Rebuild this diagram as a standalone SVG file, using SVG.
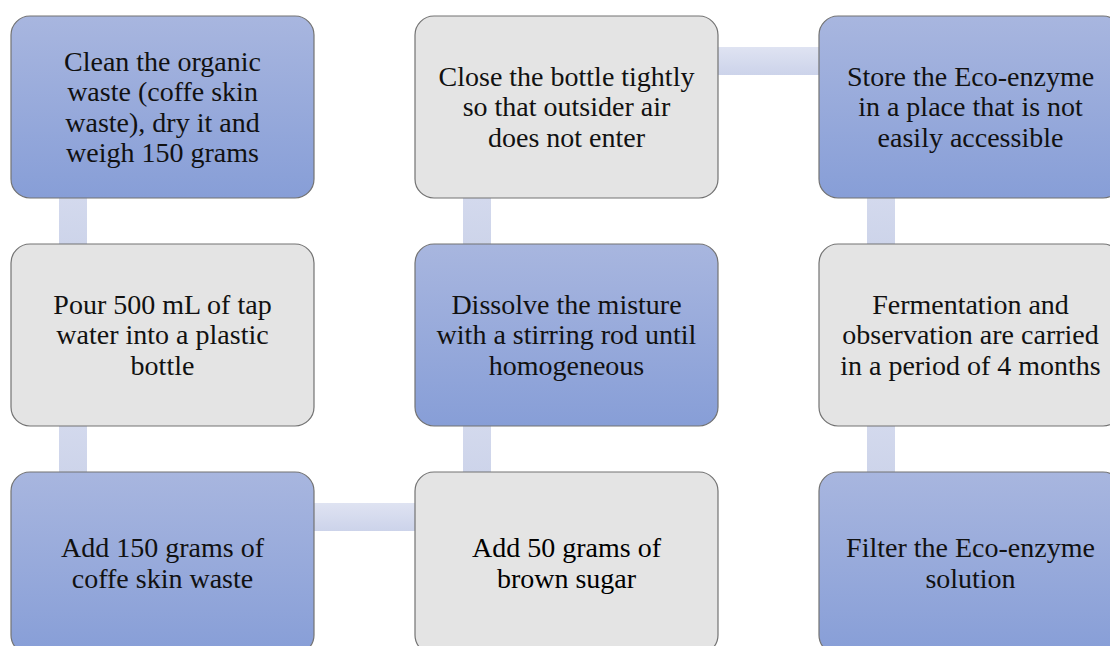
<svg xmlns="http://www.w3.org/2000/svg" width="1110" height="646" viewBox="0 0 1110 646">
<defs>
<linearGradient id="gb" x1="0" y1="0" x2="0" y2="1">
<stop offset="0" stop-color="#a8b6df"/>
<stop offset="1" stop-color="#879ed7"/>
</linearGradient>
<linearGradient id="gv" x1="0" y1="0" x2="0" y2="1">
<stop offset="0" stop-color="#d3d9ed"/>
<stop offset="1" stop-color="#cdd4ea"/>
</linearGradient>
<linearGradient id="gh" x1="0" y1="0" x2="0" y2="1">
<stop offset="0" stop-color="#dfe3f2"/>
<stop offset="1" stop-color="#ccd3ea"/>
</linearGradient>
</defs>
<rect width="1110" height="646" fill="#fff"/>
<g id="connectors">
<rect fill="url(#gv)" x="59" y="197" width="28" height="48"/>
<rect fill="url(#gv)" x="59" y="425" width="28" height="48"/>
<rect fill="url(#gh)" x="313" y="503" width="103" height="28"/>
<rect fill="url(#gv)" x="463" y="425" width="28" height="48"/>
<rect fill="url(#gv)" x="463" y="197" width="28" height="48"/>
<rect fill="url(#gh)" x="717" y="47" width="103" height="28"/>
<rect fill="url(#gv)" x="867" y="197" width="28" height="48"/>
<rect fill="url(#gv)" x="867" y="425" width="28" height="48"/>
</g>
<g id="n1">
<rect fill="url(#gb)" stroke="#737373" stroke-width="1.2" x="11" y="16" width="303" height="182" rx="19"/>
<text font-family="serif" font-size="28" fill="#111" text-anchor="middle" x="162.5" y="71">Clean the organic</text>
<text font-family="serif" font-size="28" fill="#111" text-anchor="middle" x="162.5" y="101.3">waste (coffe skin</text>
<text font-family="serif" font-size="28" fill="#111" text-anchor="middle" x="162.5" y="131.6">waste), dry it and</text>
<text font-family="serif" font-size="28" fill="#111" text-anchor="middle" x="162.5" y="161.9">weigh 150 grams</text>
</g>
<g id="n2">
<rect fill="#e4e4e4" stroke="#737373" stroke-width="1.2" x="11" y="244" width="303" height="182" rx="19"/>
<text font-family="Times New Roman" font-size="28" fill="#111" text-anchor="middle" x="162.5" y="314">Pour 500 mL of tap</text>
<text font-family="Times New Roman" font-size="28" fill="#111" text-anchor="middle" x="162.5" y="344.3">water into a plastic</text>
<text font-family="Times New Roman" font-size="28" fill="#111" text-anchor="middle" x="162.5" y="374.6">bottle</text>
</g>
<g id="n3">
<rect fill="url(#gb)" stroke="#737373" stroke-width="1.2" x="11" y="472" width="303" height="182" rx="19"/>
<text style="font-family:'Liberation Serif',serif;font-size:28px" fill="#111" text-anchor="middle" x="162.5" y="557.2">Add 150 grams of</text>
<text style="font-family:'Liberation Serif',serif;font-size:28px" fill="#111" text-anchor="middle" x="162.5" y="587.5">coffe skin waste</text>
</g>
<g id="n4">
<rect fill="#e4e4e4" stroke="#737373" stroke-width="1.2" x="415" y="472" width="303" height="182" rx="19"/>
<text font-family="Liberation Serif" font-size="28" x="566.5" y="557.2" text-anchor="middle">Add 50 grams of</text>
<text font-family="Liberation Serif" font-size="28" x="566.5" y="587.5" text-anchor="middle">brown sugar</text>
</g>
<g id="n5">
<rect fill="url(#gb)" stroke="#737373" stroke-width="1.2" x="415" y="244" width="303" height="182" rx="19"/>
<text font-family="Liberation Serif" font-size="28" fill="#111" text-anchor="middle" x="566.5" y="314">Dissolve the misture</text>
<text font-family="Liberation Serif" font-size="28" fill="#111" text-anchor="middle" x="566.5" y="344.3">with a stirring rod until</text>
<text font-family="Liberation Serif" font-size="28" fill="#111" text-anchor="middle" x="566.5" y="374.6">homogeneous</text>
</g>
<g id="n6">
<rect fill="#e4e4e4" stroke="#737373" stroke-width="1.2" x="415" y="16" width="303" height="182" rx="19"/>
<text font-family="Liberation Serif" font-size="28" fill="#111" text-anchor="middle" x="566.5" y="86">Close the bottle tightly</text>
<text font-family="Liberation Serif" font-size="28" fill="#111" text-anchor="middle" x="566.5" y="116.3">so that outsider air</text>
<text font-family="Liberation Serif" font-size="28" fill="#111" text-anchor="middle" x="566.5" y="146.6">does not enter</text>
</g>
<g id="n7">
<rect fill="url(#gb)" stroke="#737373" stroke-width="1.2" x="819" y="16" width="303" height="182" rx="19"/>
<text font-family="Liberation Serif" font-size="28" fill="#111" text-anchor="middle" x="970.5" y="86">Store the Eco-enzyme</text>
<text font-family="Liberation Serif" font-size="28" fill="#111" text-anchor="middle" x="970.5" y="116.3">in a place that is not</text>
<text font-family="Liberation Serif" font-size="28" fill="#111" text-anchor="middle" x="970.5" y="146.6">easily accessible</text>
</g>
<g id="n8">
<rect fill="#e4e4e4" stroke="#737373" stroke-width="1.2" x="819" y="244" width="303" height="182" rx="19"/>
<text font-family="Liberation Serif" font-size="28" fill="#111" text-anchor="middle" x="970.5" y="314">Fermentation and</text>
<text font-family="Liberation Serif" font-size="28" fill="#111" text-anchor="middle" x="970.5" y="344.3">observation are carried</text>
<text font-family="Liberation Serif" font-size="28" fill="#111" text-anchor="middle" x="970.5" y="374.6">in a period of 4 months</text>
</g>
<g id="n9">
<rect fill="url(#gb)" stroke="#737373" stroke-width="1.2" x="819" y="472" width="303" height="182" rx="19"/>
<text font-family="Liberation Serif" font-size="28" fill="#111" text-anchor="middle" x="970.5" y="557.2">Filter the Eco-enzyme</text>
<text font-family="Liberation Serif" font-size="28" fill="#111" text-anchor="middle" x="970.5" y="587.5">solution</text>
</g>
</svg>
